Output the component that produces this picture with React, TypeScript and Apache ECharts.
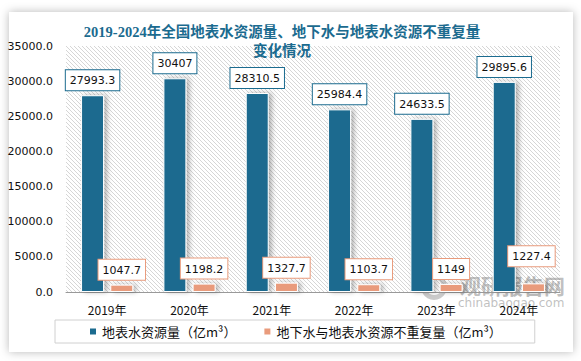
import React, { useEffect, useRef } from "react";
import * as echarts from "echarts";

const categories = ["2019年", "2020年", "2021年", "2022年", "2023年", "2024年"];
const surfaceWater = [27993.3, 30407, 28310.5, 25984.4, 24633.5, 29895.6];
const nonRepeat = [1047.7, 1198.2, 1327.7, 1103.7, 1149, 1227.4];
const seriesNames = ["地表水资源量（亿m³）", "地下水与地表水资源不重复量（亿m³）"];
const titleText = "2019-2024年全国地表水资源量、地下水与地表水资源不重复量\n变化情况";
const yMax = 35000;
const yInterval = 5000;

const BLUE = "#1b6b8f";
const ORANGE = "#e99b7c";

function makeHatch(): HTMLCanvasElement {
  const c = document.createElement("canvas");
  c.width = 4;
  c.height = 4;
  const ctx = c.getContext("2d")!;
  ctx.fillStyle = "#ffffff";
  ctx.fillRect(0, 0, 4, 4);
  ctx.strokeStyle = "#d6d6d6";
  ctx.lineWidth = 1;
  ctx.beginPath();
  ctx.moveTo(-1, -1);
  ctx.lineTo(5, 5);
  ctx.moveTo(-1, 3);
  ctx.lineTo(1, 5);
  ctx.moveTo(3, -1);
  ctx.lineTo(5, 1);
  ctx.stroke();
  return c;
}

export default function App() {
  const ref = useRef<HTMLDivElement>(null);
  useEffect(() => {
    if (!ref.current) return;
    const chart = echarts.init(ref.current, null, { renderer: "svg" });
    const labelFont = {
      fontFamily: "DejaVu Sans",
      fontSize: 11,
      color: "#111",
    };
    const boxLabel = (border: string) => ({
      show: true,
      position: "top",
      distance: 5,
      ...labelFont,
      backgroundColor: "#fff",
      borderColor: border,
      borderWidth: 1,
      padding: [5, 4, 4, 4],
    });
    const orangeData = nonRepeat.map((v, i) =>
      i === nonRepeat.length - 1 ? { value: v, label: { offset: [-2, -12] } } : v
    );
    chart.setOption({
      animation: false,
      backgroundColor: "#ffffff",
      graphic: [
        {
          type: "rect",
          z: -10,
          shape: { x: 9, y: 12, width: 564, height: 340 },
          style: {
            fill: "#ffffff",
            shadowBlur: 10,
            shadowColor: "rgba(0,0,0,0.28)",
          },
        },
        {
          type: "text",
          x: 282,
          y: 22,
          z: 10,
          style: {
            text: titleText,
            textAlign: "center",
            textVerticalAlign: "top",
            fontFamily: "'Liberation Serif', 'Noto Sans CJK SC'",
            fontWeight: "bold",
            fontSize: 14.5,
            lineHeight: 19,
            fill: BLUE,
          },
        },
        {
          type: "group",
          z: 20,
          children: [
            {
              type: "ring",
              shape: { cx: 434, cy: 287, r: 13, r0: 8 },
              style: { fill: "rgba(140,140,140,0.45)" },
            },
            {
              type: "text",
              x: 460,
              y: 274,
              style: {
                text: "观研报告网",
                fontFamily: "Noto Sans CJK SC",
                fontWeight: "bold",
                fontSize: 21,
                fill: "rgba(130,130,130,0.5)",
              },
            },
            {
              type: "text",
              x: 458,
              y: 297,
              style: {
                text: "chinabaogao.com",
                fontFamily: "DejaVu Sans",
                fontSize: 12,
                fill: "rgba(130,130,130,0.5)",
              },
            },
          ],
        },
      ],
      grid: {
        left: 66,
        right: 21,
        top: 46,
        bottom: 69,
        show: true,
        borderWidth: 0,
        backgroundColor: { image: makeHatch(), repeat: "repeat" },
      },
      legend: {
        left: 55,
        top: 320,
        width: 472,
        borderColor: "#d0d0d0",
        borderWidth: 1,
        padding: [5, 33, 5, 33],
        itemGap: 26,
        itemWidth: 8,
        itemHeight: 8,
        icon: "rect",
        textStyle: {
          fontFamily: "Noto Sans CJK SC",
          fontSize: 13,
          color: "#111",
        },
        data: seriesNames,
      },
      xAxis: {
        type: "category",
        data: categories,
        axisLine: { lineStyle: { color: "#999", width: 1 } },
        axisTick: { show: false },
        axisLabel: {
          fontFamily: "Noto Sans CJK SC",
          fontSize: 12,
          color: "#111",
          margin: 11,
        },
      },
      yAxis: {
        type: "value",
        min: 0,
        max: yMax,
        interval: yInterval,
        splitLine: { show: false },
        axisLine: { show: false },
        axisTick: { show: false },
        axisLabel: {
          ...labelFont,
          margin: 13,
          formatter: (v: number) => v.toFixed(1),
        },
      },
      series: [
        {
          name: seriesNames[0],
          type: "bar",
          data: surfaceWater,
          barWidth: 23,
          barGap: "27%",
          itemStyle: {
            color: BLUE,
            borderColor: "#fff",
            borderWidth: 1,
            shadowColor: "rgba(0,0,0,0.3)",
            shadowBlur: 5,
            shadowOffsetX: 3,
          },
          label: boxLabel(BLUE),
        },
        {
          name: seriesNames[1],
          type: "bar",
          data: orangeData,
          barWidth: 23,
          itemStyle: {
            color: ORANGE,
            borderColor: "#fff",
            borderWidth: 1,
            shadowColor: "rgba(0,0,0,0.3)",
            shadowBlur: 5,
            shadowOffsetX: 3,
          },
          label: boxLabel(ORANGE),
        },
      ],
    });
    return () => chart.dispose();
  }, []);
  return (
    <div
      ref={ref}
      style={{ position: "absolute", left: 0, top: 0, width: 581, height: 361 }}
    />
  );
}
